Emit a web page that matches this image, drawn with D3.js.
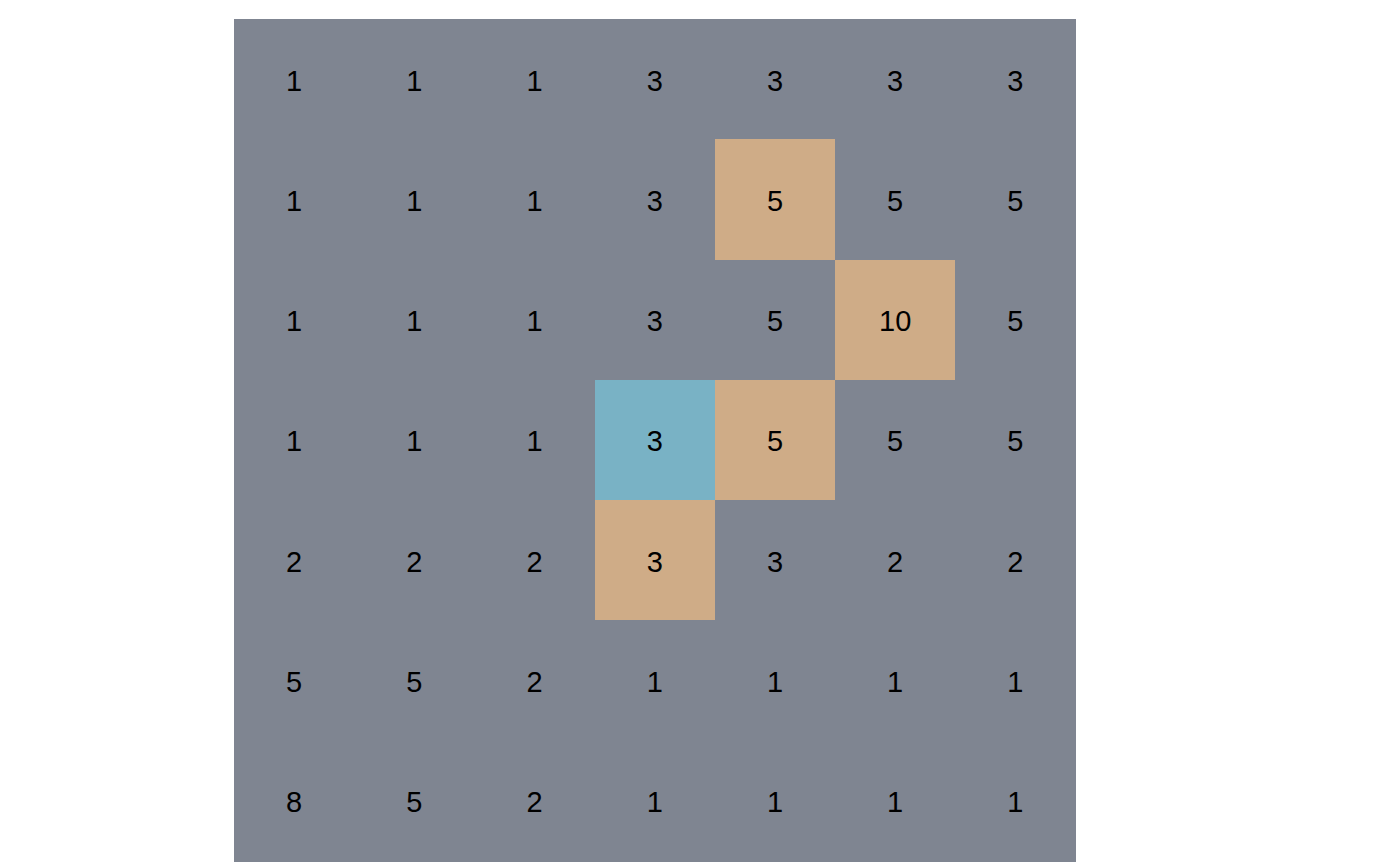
<!DOCTYPE html>
<html><head><meta charset="utf-8">
<script src="https://cdn.jsdelivr.net/npm/d3@7"></script>
<style>body{margin:0;background:#fff}svg{display:block}</style>
</head><body><svg id="c" width="1400" height="865"></svg>
<script>
const rows = [0,1,2,3,4,5,6];
const cols = [0,1,2,3,4,5,6];
const values = [
  [1,1,1,3,3,3,3],
  [1,1,1,3,5,5,5],
  [1,1,1,3,5,10,5],
  [1,1,1,3,5,5,5],
  [2,2,2,3,3,2,2],
  [5,5,2,1,1,1,1],
  [8,5,2,1,1,1,1]
];
// highlight category: 0 = none, 1 = path, 2 = current
const highlight = [
  [0,0,0,0,0,0,0],
  [0,0,0,0,1,0,0],
  [0,0,0,0,0,1,0],
  [0,0,0,2,1,0,0],
  [0,0,0,1,0,0,0],
  [0,0,0,0,0,0,0],
  [0,0,0,0,0,0,0]
];
const categories = [0,1,2];
const catColors = ["#7f8591","#cfac87","#79b2c5"];

const svg = d3.select("#c");
const x = d3.scaleBand().domain(cols).range([234,1075.5]).padding(0);
const y = d3.scaleBand().domain(rows).range([19,861]).padding(0);
const color = d3.scaleOrdinal().domain(categories).range(catColors);

const cells = [];
rows.forEach(r => cols.forEach(c => cells.push({r, c, v: values[r][c], h: highlight[r][c]})));

svg.append("g").attr("shape-rendering","crispEdges").selectAll("rect").data(cells).join("rect")
  .attr("x", d => x(d.c)).attr("y", d => y(d.r))
  .attr("width", x.bandwidth()+0.6).attr("height", y.bandwidth()+0.6)
  .attr("fill", d => color(d.h));

const fs = 29;
svg.append("g").selectAll("text").data(cells).join("text")
  .attr("x", d => x(d.c) + x.bandwidth()/2)
  .attr("y", d => y(d.r) + y.bandwidth()/2 + 0.358*fs + 1)
  .attr("text-anchor","middle")
  .attr("font-family","Liberation Sans, Arial, sans-serif")
  .attr("font-size", fs).attr("fill","#000")
  .text(d => d.v);
</script></body></html>
